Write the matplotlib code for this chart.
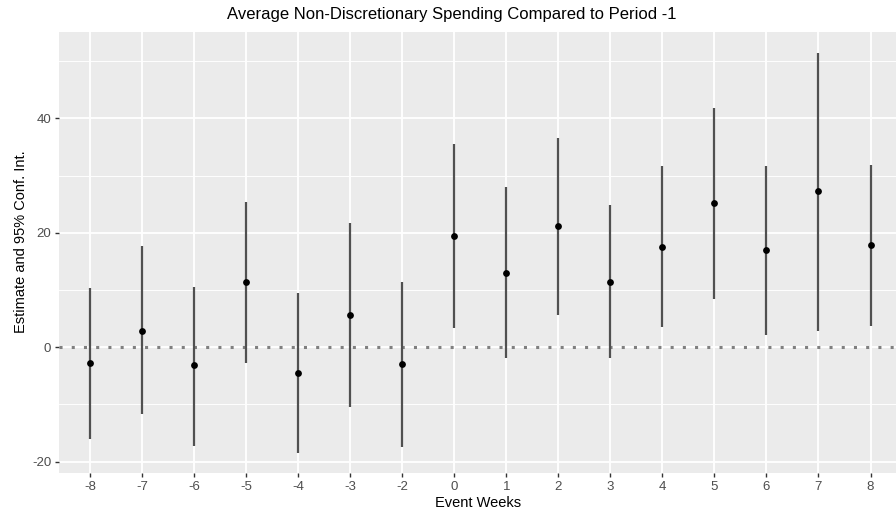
import numpy as np
import matplotlib
matplotlib.use("Agg")
import matplotlib.pyplot as plt
from matplotlib.ticker import MultipleLocator

plt.rcParams['font.family'] = ['Liberation Sans', 'DejaVu Sans']
plt.rcParams['axes.unicode_minus'] = False

# event weeks (period -1 is the reference and is left out)
weeks = ['-8', '-7', '-6', '-5', '-4', '-3', '-2', '0', '1', '2', '3', '4', '5', '6', '7', '8']
estimate = [-2.7, 2.9, -3.2, 11.4, -4.5, 5.6, -2.9, 19.4, 13.0, 21.2, 11.4, 17.5, 25.2, 17.0, 27.3, 17.8]
ci_low = [-16.0, -11.6, -17.2, -2.7, -18.5, -10.5, -17.5, 3.4, -1.9, 5.6, -1.9, 3.5, 8.5, 2.2, 2.9, 3.7]
ci_high = [10.3, 17.6, 10.5, 25.4, 9.5, 21.7, 11.4, 35.5, 28.0, 36.5, 24.9, 31.6, 41.8, 31.6, 51.4, 31.8]

W, H = 896, 523
fig = plt.figure(figsize=(W/100, H/100), dpi=100)
ax = fig.add_axes([59/W, 50/H, 1 - 59/W, (473 - 32)/H])
ax.set_facecolor('#EBEBEB')
for s in ax.spines.values():
    s.set_visible(False)

x = np.arange(len(weeks))

# grid, ggplot style
ax.set_yticks([-20, 0, 20, 40])
ax.yaxis.set_minor_locator(MultipleLocator(10))
ax.grid(which='major', color='white', lw=1.3)
ax.grid(which='minor', axis='y', color='white', lw=0.65)
ax.set_axisbelow(True)

ax.axhline(0, color='#7F7F7F', lw=2.2, ls=(0, (1, 3.0)), zorder=1.5)

ax.vlines(x, ci_low, ci_high, color='#505050', lw=1.6, zorder=2)
ax.scatter(x, estimate, s=24, color='black', zorder=3, linewidths=0)

ax.set_xticks(x)
ax.set_xticklabels(weeks)
ax.set_xlim(-0.6, 15.49)
ax.set_ylim(-22.0, 55.1)
ax.tick_params(which='major', length=3, width=1, color='#333333', labelcolor='#4D4D4D',
               labelsize=9.5, pad=2.5)
ax.tick_params(which='minor', length=0)

fig.text(478/W, 1 - 507/H, 'Event Weeks', fontsize=10.5, ha='center', va='baseline')
fig.text(21/W, 1 - 242/H, 'Estimate and 95% Conf. Int.', fontsize=10.5,
         rotation=90, ha='center', va='center')
fig.text(451.5/W, 1 - 19.5/H, 'Average Non-Discretionary Spending Compared to Period -1',
         fontsize=12, ha='center', va='baseline')

fig.savefig('out.png', dpi=100)
